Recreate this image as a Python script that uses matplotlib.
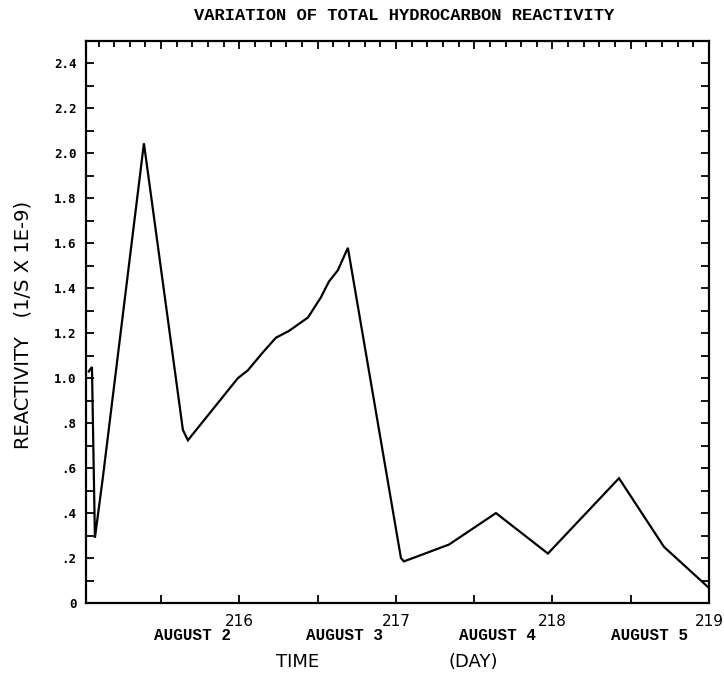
import matplotlib
matplotlib.use("Agg")
import matplotlib.pyplot as plt
from matplotlib.ticker import MultipleLocator, FixedLocator
import matplotlib.transforms as mtransforms

# Julian day and total hydrocarbon reactivity (1/s x 1e-9)
day = [215.038, 215.058, 215.077, 215.128, 215.390, 215.639, 215.671,
       215.990, 216.054, 216.150, 216.233, 216.316, 216.438, 216.521,
       216.572, 216.629, 216.693, 217.032, 217.051, 217.339, 217.639,
       217.971, 218.425, 218.712, 219.000]
reactivity = [1.03, 1.05, 0.29, 0.56, 2.045, 0.77, 0.724,
              1.00, 1.035, 1.115, 1.18, 1.21, 1.27, 1.36,
              1.43, 1.48, 1.58, 0.20, 0.185, 0.26, 0.40,
              0.22, 0.555, 0.25, 0.067]

x_ticks = [216, 217, 218, 219]
x_tick_labels = ["216", "217", "218", "219"]
y_ticks = [0, 0.2, 0.4, 0.6, 0.8, 1.0, 1.2, 1.4, 1.6, 1.8, 2.0, 2.2, 2.4]
y_tick_labels = ["0", ".2", ".4", ".6", ".8", "1.0", "1.2", "1.4", "1.6",
                 "1.8", "2.0", "2.2", "2.4"]
date_positions = [215.70, 216.67, 217.65, 218.62]
date_labels = ["AUGUST 2", "AUGUST 3", "AUGUST 4", "AUGUST 5"]

fig = plt.figure(figsize=(7.24, 6.76), dpi=100)
ax = fig.add_axes([86 / 724, 1 - 603 / 676, (709 - 86) / 724, (603 - 41) / 676])

ax.plot(day, reactivity, color="black", linewidth=1.6, solid_joinstyle="miter")

ax.set_xlim(215.02, 219.0)
ax.set_ylim(0, 2.5)

for side in ax.spines.values():
    side.set_linewidth(1.6)

# y ticks: labelled every 0.2, marks every 0.1, inward on both sides
ax.yaxis.set_major_locator(FixedLocator(y_ticks))
ax.yaxis.set_minor_locator(MultipleLocator(0.1))
ax.set_yticklabels(y_tick_labels, family="DejaVu Sans Mono", weight="bold",
                   fontsize=9)
ax.tick_params(axis="y", which="both", direction="in", left=True, right=True,
               length=6, width=1.3, pad=7)

# x ticks: labels at whole days, marks every half day on the bottom,
# every tenth of a day on the top
ax.xaxis.set_major_locator(FixedLocator(x_ticks))
ax.set_xticklabels(x_tick_labels, family="DejaVu Sans", fontsize=11)
ax.xaxis.set_minor_locator(FixedLocator([215.5, 216.5, 217.5, 218.5]))
ax.tick_params(axis="x", which="both", direction="in", bottom=True, top=False,
               length=6, width=1.3, pad=8)

top = ax.secondary_xaxis("top")
top.xaxis.set_major_locator(MultipleLocator(0.5))
top.xaxis.set_minor_locator(MultipleLocator(0.1))
top.tick_params(which="major", direction="in", length=6, width=1.3,
                labeltop=False)
top.tick_params(which="minor", direction="in", length=4, width=1.3)
top.spines["top"].set_visible(False)

trans = mtransforms.blended_transform_factory(ax.transData, fig.transFigure)
for pos, lab in zip(date_positions, date_labels):
    ax.text(pos, 1 - 636 / 676, lab, transform=trans, ha="center", va="center",
            family="Liberation Mono", weight="bold", fontsize=11.5)

fig.text(298 / 724, 1 - 662 / 676, "TIME", ha="center", va="center",
         family="DejaVu Sans", fontsize=13)
fig.text(473 / 724, 1 - 662 / 676, "(DAY)", ha="center", va="center",
         family="DejaVu Sans", fontsize=13)
fig.text(23 / 724, 1 - 325 / 676, "REACTIVITY   (1/S X 1E-9)", rotation=90,
         ha="center", va="center", family="DejaVu Sans", fontsize=14)
fig.text(404 / 724, 1 - 15 / 676, "VARIATION OF TOTAL HYDROCARBON REACTIVITY",
         ha="center", va="center", family="Liberation Mono", weight="bold",
         fontsize=12.3)

fig.savefig("out.png", dpi=100)
